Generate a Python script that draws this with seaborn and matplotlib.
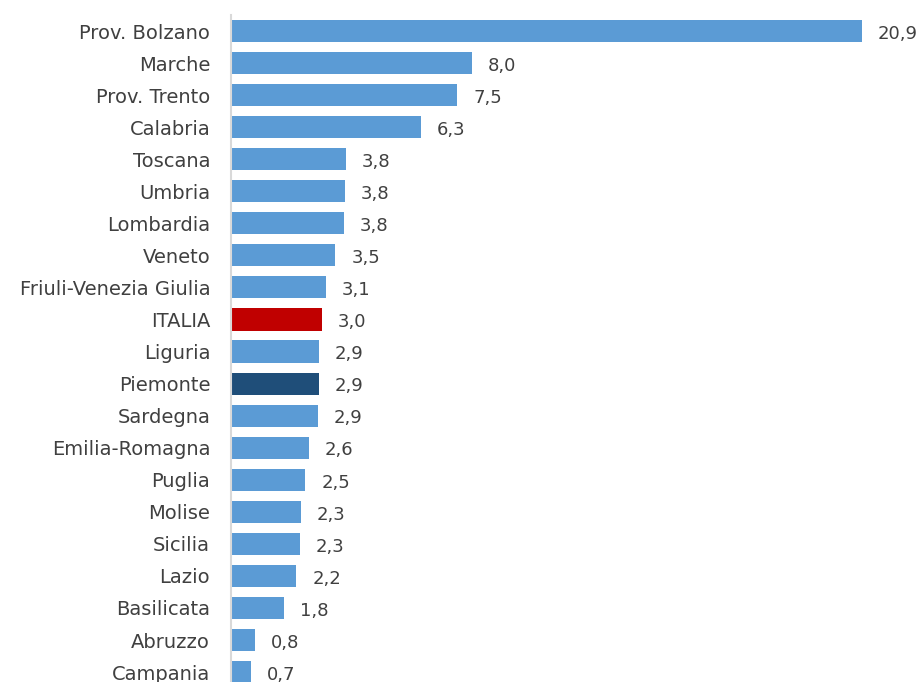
import pandas as pd
import matplotlib.pyplot as plt
import seaborn as sns

regioni = [
    "Prov. Bolzano", "Marche", "Prov. Trento", "Calabria", "Toscana",
    "Umbria", "Lombardia", "Veneto", "Friuli-Venezia Giulia", "ITALIA",
    "Liguria", "Piemonte", "Sardegna", "Emilia-Romagna", "Puglia",
    "Molise", "Sicilia", "Lazio", "Basilicata", "Abruzzo", "Campania"
]

valori = [
    20.90, 7.98, 7.49, 6.29, 3.81,
    3.78, 3.75, 3.46, 3.14, 3.01,
    2.91, 2.91, 2.88, 2.58, 2.46,
    2.32, 2.29, 2.16, 1.77, 0.80, 0.66
]

etichette = [
    "20,9", "8,0", "7,5", "6,3", "3,8",
    "3,8", "3,8", "3,5", "3,1", "3,0",
    "2,9", "2,9", "2,9", "2,6", "2,5",
    "2,3", "2,3", "2,2", "1,8", "0,8", "0,7"
]

colori = []
for r in regioni:
    if r == "ITALIA":
        colori.append("#C00000")
    elif r == "Piemonte":
        colori.append("#1F4E79")
    else:
        colori.append("#5B9BD5")

df = pd.DataFrame({"regione": regioni, "valore": valori})

sns.set_style("white")
plt.rcParams["font.family"] = ["DejaVu Sans"]

fig = plt.figure(figsize=(9.21, 6.82), dpi=100)
ax = fig.add_axes([231 / 921, 0, 690 / 921, 667 / 682])

sns.barplot(
    data=df,
    x="valore",
    y="regione",
    hue="regione",
    palette=colori,
    saturation=1,
    legend=False,
    width=0.69,
    linewidth=0,
    ax=ax
)

# etichette dei valori a destra delle barre
for i, (v, t) in enumerate(zip(valori, etichette)):
    ax.annotate(
        t,
        xy=(v, i),
        xytext=(11.5, -2),
        textcoords="offset points",
        va="center",
        ha="left",
        fontsize=13,
        color="#404040"
    )

ax.set_xlim(0, 22.86)
ax.set_ylim(20.31, -0.5)
ax.set_xlabel("")
ax.set_ylabel("")
ax.set_xticks([])

ax.tick_params(axis="y", length=0, pad=15, labelsize=14, labelcolor="#404040")

for s in ["top", "right", "bottom"]:
    ax.spines[s].set_visible(False)
ax.spines["left"].set_color("#D9D9D9")
ax.spines["left"].set_linewidth(1.5)

fig.savefig("out.png", dpi=100)
